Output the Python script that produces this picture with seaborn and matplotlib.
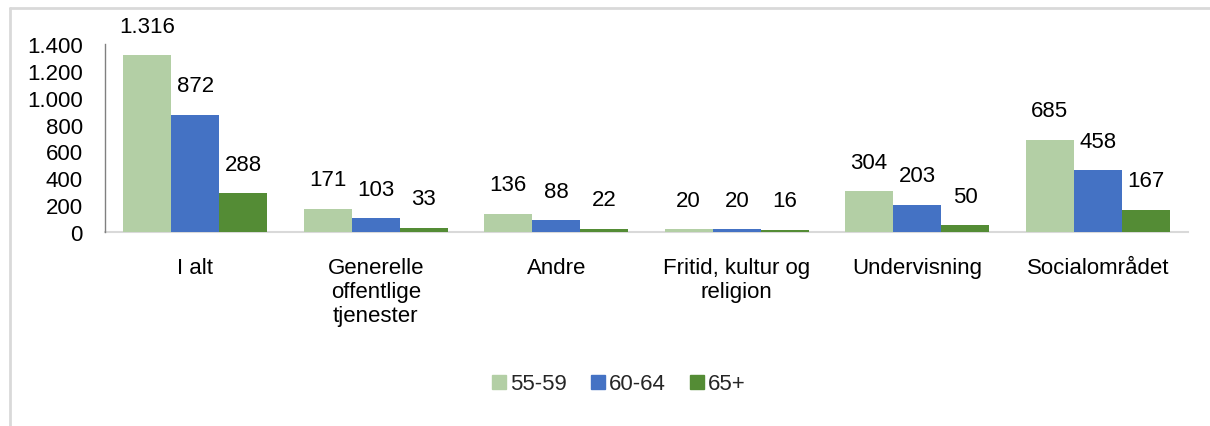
import matplotlib
matplotlib.use("Agg")
import matplotlib.pyplot as plt
from matplotlib.lines import Line2D
from matplotlib.ticker import FuncFormatter
import seaborn as sns
import pandas as pd

categories = ["I alt", "Generelle\noffentlige\ntjenester", "Andre",
              "Fritid, kultur og\nreligion", "Undervisning", "Socialområdet"]
age_groups = ["55-59", "60-64", "65+"]
values_55_59 = [1316, 171, 136, 20, 304, 685]
values_60_64 = [872, 103, 88, 20, 203, 458]
values_65_plus = [288, 33, 22, 16, 50, 167]
yticks = [0, 200, 400, 600, 800, 1000, 1200, 1400]

colors = ["#B3CFA5", "#4472C4", "#548C35"]

rows = []
for grp, vals in zip(age_groups, [values_55_59, values_60_64, values_65_plus]):
    for cat, v in zip(categories, vals):
        rows.append({"kategori": cat, "alder": grp, "antal": v})
df = pd.DataFrame(rows)

sns.set_style("white")
plt.rcParams["font.family"] = ["Liberation Sans", "DejaVu Sans"]

fig = plt.figure(figsize=(12.10, 4.27), dpi=100)
ax = fig.add_axes([105 / 1210, 1 - 233 / 427, (1188 - 105) / 1210, (233 - 45) / 427])

sns.barplot(data=df, x="kategori", y="antal", hue="alder", order=categories,
            hue_order=age_groups, palette=colors, width=0.8, gap=0,
            saturation=1, linewidth=0, ax=ax, legend=True, zorder=3)

ax.set_xlim(-0.5, len(categories) - 0.5)
ax.set_ylim(0, 1400)
ax.set_yticks(yticks)
ax.yaxis.set_major_formatter(FuncFormatter(lambda v, p: f"{int(v):,}".replace(",", ".")))
ax.set_xlabel("")
ax.set_ylabel("")

fs = 16
ax.tick_params(axis="y", length=0, pad=16, labelsize=fs, labelcolor="#000000")
ax.tick_params(axis="x", length=0, pad=18, labelsize=fs, labelcolor="#000000")

for side in ["top", "right"]:
    ax.spines[side].set_visible(False)
ax.spines["left"].set_color("#808080")
ax.spines["left"].set_linewidth(1.0)
ax.spines["bottom"].set_color("#D9D9D9")
ax.spines["bottom"].set_linewidth(1.5)
ax.spines["bottom"].set_zorder(1)

# value labels centred above each bar
for container in ax.containers:
    labels = [f"{int(v):,}".replace(",", ".") for v in container.datavalues]
    for bar, lab in zip(container.patches, labels):
        ax.annotate(lab, (bar.get_x() + bar.get_width() / 2, bar.get_height()),
                    xytext=(0, 21), textcoords="offset points",
                    ha="center", va="center", fontsize=fs, color="#000000")

ax.legend_.remove()
handles = [plt.Rectangle((0, 0), 1, 1, color=c) for c in colors]
fig.legend(handles, age_groups, loc="center", bbox_to_anchor=(619 / 1210, 1 - 385 / 427),
           ncol=3, frameon=False, fontsize=fs, handlelength=0.6, handleheight=0.6,
           handletextpad=0.2, columnspacing=1.1)

# outer chart-area frame
fig.add_artist(Line2D([10 / 1210, 1], [1 - 9 / 427, 1 - 9 / 427],
                      transform=fig.transFigure, color="#D9D9D9", lw=2))
fig.add_artist(Line2D([10 / 1210, 10 / 1210], [0, 1 - 9 / 427],
                      transform=fig.transFigure, color="#D9D9D9", lw=2))

fig.savefig("out.png", dpi=100, facecolor="white")
